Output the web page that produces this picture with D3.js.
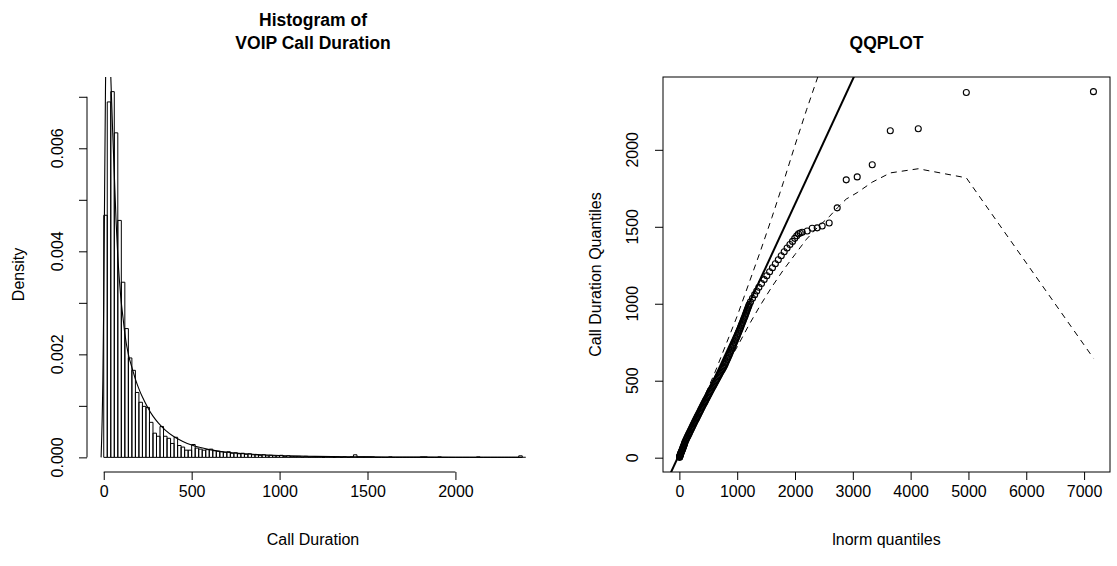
<!DOCTYPE html>
<html><head><meta charset="utf-8">
<script src="https://cdn.jsdelivr.net/npm/d3@7"></script>
<style>
body{margin:0;background:#fff}
svg text{font-family:"Liberation Sans",Arial,Helvetica,sans-serif;fill:#000}
</style>
</head><body>
<svg id="c" width="1117" height="566"></svg>
<script>
// ---------------- DATA ----------------
// Histogram of call duration (density per bin of width 20, starting at 0)
const histStart = 0;
const histBinWidth = 20;
const histDensity = [
0.0047,0.0069,0.0071,0.0063,0.0046,0.0034,0.0025,0.00193,0.00169,0.00126,
0.00107,0.00099,0.00097,0.00068,0.00047,0.00041,0.0006,0.00041,0.00037,0.00027,
0.00039,0.00023,0.0002,0.00014,0.00014,0.00025,0.00018,0.00016,0.00014,0.00015,
0.00016,0.00013,0.00012,0.00011,0.0001,0.00011,0.00008,0.00009,0.00007,0.00008,
0.00006,0.00007,0.00005,0.00005,0.00004,0.00005,0.00003,0.00004,0.00003,0.00003,
0.00004,0.00002,0.00003,0.00002,0.00002,0.00002,0.00001,0.00002,0.00001,0.00001,
0.00001,0.00001,0,0.00001,0.00001,0,0.00001,0,0.00001,0,
0.00001,0.00005,0.00001,0.00001,0.00001,0.00001,0.00001,0,0,0,
0,0.00001,0,0,0,0,0,0,0,0,
0.00001,0.00001,0,0,0,0.00001,0,0,0,0,
0,0,0,0,0,0,0.00001,0,0,0,
0,0,0,0,0,0,0,0,0.00003
];
// Kernel density curve over the histogram
const densX = [-15,-5,0,5,10,15,20,25,30,40,50,60,70,80,90,100,110,120,140,160,180,200,220,250,280,310,350,400,450,500,550,600,700,800,900,1000,1200,1400,1600,1800,2000,2200,2400];
const densY = [0,0.0015,0.003,0.0052,0.0072,0.0085,0.009,0.0089,0.0084,0.0074,0.0064,0.0055,0.0046,0.0039,0.0034,0.003,0.0027,0.0024,0.002,0.00175,0.00152,0.00133,0.00117,0.00097,0.0008,0.00067,0.00053,0.0004,0.00031,0.00024,0.00019,0.00015,0.0001,0.00007,0.00005,0.000035,0.00002,0.000012,0.000008,0.000005,0.000003,0.000002,0.000001];
const histXTicks = [0,500,1000,1500,2000];
const histYTicks = [0,0.001,0.002,0.003,0.004,0.005,0.006,0.007];
const histYLabelTicks = [0,0.002,0.004,0.006];

// QQ plot: sample quantiles (sorted) and matching lognormal theoretical quantiles
const qqSample = [
2,5,8,11,14,17,20,24,28,32,36,40,45,50,55,60,65,70,76,82,88,94,
100,108,116,124,132,140,148,156,164,172,180,188,196,204,212,220,228,236,244,252,260,268,276,284,292,300,308,316,324,332,340,348,356,364,372,380,388,396,404,412,420,428,436,444,452,460,468,476,484,492,500,508,516,524,532,540,548,556,564,572,580,588,596,
606,616,626,636,646,656,666,676,686,696,706,716,726,736,746,756,766,776,786,796,806,816,826,836,846,856,866,876,886,896,906,916,926,936,946,956,966,976,986,996,
1012,1035,1059,1083,1107,1132,1157,1182,1208,1234,1260,1286,1312,1338,1362,1385,1405,1425,1442,1455,1460,1464,1473,1490,1493,1505,1525,1623,1805,1824,1903,2124,2137,2372,2378];
const qqTheo = [
3,5,7,9,11,14,17,20,24,28,33,38,43,48,53,58,63,68,74,80,86,91,
95,105,115,125,135,145,155,166,176,186,196,207,217,228,238,248,259,269,280,291,301,312,323,333,344,355,366,376,387,398,409,420,431,442,453,464,475,486,498,509,520,531,543,554,566,577,588,600,611,623,634,646,658,669,681,693,704,716,728,740,752,764,776,
789,801,812,824,836,847,859,871,882,893,905,916,927,938,949,960,971,982,993,1004,1015,1026,1036,1047,1057,1068,1078,1089,1099,1109,1119,1130,1140,1150,1160,1169,1179,1189,1199,1210,
1230,1265,1302,1338,1375,1420,1467,1513,1561,1610,1660,1711,1762,1813,1863,1912,1957,1995,2030,2060,2090,2124,2211,2297,2384,2470,2591,2730,2886,3076,3336,3648,4132,4963,7162];
// reference line (intercept, slope)
const qqLineIntercept = 23;
const qqLineSlope = 0.812;
// confidence envelope
const envUpperTheo = [3,200,400,600,800,1000,1200,1400,1600,1800,2000,2200,2400,2591,2730];
const envUpper     = [25,200,370,540,730,920,1130,1340,1560,1790,2030,2260,2480,2700,2860];
const envLowerTheo = [3,200,400,600,800,1000,1200,1400,1600,1800,2000,2200,2400,2591,2730,2886,3076,3336,3648,4132,4963,7162];
const envLower     = [-10,150,300,440,590,720,860,990,1110,1220,1320,1420,1500,1565,1622,1680,1722,1790,1850,1877,1818,646];
const qqXTicks = [0,1000,2000,3000,4000,5000,6000,7000];
const qqYTicks = [0,500,1000,1500,2000];

// ---------------- LAYOUT ----------------
const svg = d3.select("#c");
const PL = {left:87, right:539, top:77, bottom:472};
const PR = {left:663, right:1110, top:77, bottom:472};
const tickFont = 16, labFont = 16, mainFont = 17.5, tickLen = 8;
function pad(e){const d=e[1]-e[0];return [e[0]-0.04*d, e[1]+0.04*d];}

// ---------- Left: histogram ----------
const nBins = histDensity.length;
const xH = d3.scaleLinear().domain(pad([histStart, histStart+nBins*histBinWidth])).range([PL.left, PL.right]);
const yH = d3.scaleLinear().domain(pad([0, d3.max(histDensity)])).range([PL.bottom, PL.top]);

svg.append("clipPath").attr("id","clipL").append("rect")
  .attr("x",PL.left).attr("y",PL.top).attr("width",PL.right-PL.left).attr("height",PL.bottom-PL.top);

const gBars = svg.append("g").attr("clip-path","url(#clipL)");
gBars.selectAll("path").data(histDensity).join("path")
  .attr("d",(d,i)=>{
    const x0=xH(histStart+i*histBinWidth), x1=xH(histStart+(i+1)*histBinWidth);
    const y0=yH(0), y1=yH(d);
    return `M${x0},${y0}V${y1}H${x1}V${y0}Z`;
  })
  .attr("fill","none").attr("stroke","#000").attr("stroke-width",1);

gBars.append("path")
  .datum(densX.map((x,i)=>[x,densY[i]]))
  .attr("d", d3.line().x(d=>xH(d[0])).y(d=>yH(d[1])).curve(d3.curveMonotoneX))
  .attr("fill","none").attr("stroke","#000").attr("stroke-width",1.1);

// x axis
const axH = svg.append("g").attr("transform",`translate(0,${PL.bottom})`)
  .call(d3.axisBottom(xH).tickValues(histXTicks).tickSize(tickLen).tickPadding(6).tickFormat(d3.format("d")));
axH.select(".domain").remove();
axH.append("line").attr("x1",xH(histXTicks[0])).attr("x2",xH(histXTicks[histXTicks.length-1])).attr("stroke","#000");
axH.selectAll("text").attr("font-size",tickFont);
// y axis
const ayH = svg.append("g").attr("transform",`translate(${PL.left},0)`)
  .call(d3.axisLeft(yH).tickValues(histYTicks).tickSize(tickLen).tickFormat(""));
ayH.select(".domain").remove();
ayH.append("line").attr("y1",yH(histYTicks[0])).attr("y2",yH(histYTicks[histYTicks.length-1])).attr("stroke","#000");
svg.append("g").selectAll("text").data(histYLabelTicks).join("text")
  .attr("transform",d=>`translate(${PL.left-30},${yH(d)}) rotate(-90)`)
  .attr("text-anchor","middle").attr("dy","0.35em").attr("font-size",tickFont)
  .text(d=>d3.format(".3f")(d));

// titles
const cxL = (PL.left+PL.right)/2;
svg.append("text").attr("x",cxL).attr("y",26).attr("text-anchor","middle")
  .attr("font-size",mainFont).attr("font-weight","bold").text("Histogram of");
svg.append("text").attr("x",cxL).attr("y",49).attr("text-anchor","middle")
  .attr("font-size",mainFont).attr("font-weight","bold").text("VOIP Call Duration");
svg.append("text").attr("x",cxL).attr("y",545).attr("text-anchor","middle")
  .attr("font-size",labFont).text("Call Duration");
svg.append("text").attr("transform",`translate(${PL.left-69},${(PL.top+PL.bottom)/2}) rotate(-90)`)
  .attr("text-anchor","middle").attr("dy","0.35em").attr("font-size",labFont).text("Density");

// ---------- Right: QQ plot ----------
const xQ = d3.scaleLinear().domain(pad(d3.extent(qqTheo))).range([PR.left, PR.right]);
const yQ = d3.scaleLinear().domain(pad(d3.extent(qqSample))).range([PR.bottom, PR.top]);

svg.append("clipPath").attr("id","clipR").append("rect")
  .attr("x",PR.left).attr("y",PR.top).attr("width",PR.right-PR.left).attr("height",PR.bottom-PR.top);
const gQ = svg.append("g").attr("clip-path","url(#clipR)");

// reference line
const lx0 = xQ.domain()[0]-2000, lx1 = xQ.domain()[1]+2000;
gQ.append("line")
  .attr("x1",xQ(lx0)).attr("y1",yQ(qqLineIntercept+qqLineSlope*lx0))
  .attr("x2",xQ(lx1)).attr("y2",yQ(qqLineIntercept+qqLineSlope*lx1))
  .attr("stroke","#000").attr("stroke-width",2);

const envLine = d3.line().x(d=>xQ(d[0])).y(d=>yQ(d[1]));
gQ.append("path").datum(envUpperTheo.map((t,i)=>[t,envUpper[i]])).attr("d",envLine)
  .attr("fill","none").attr("stroke","#000").attr("stroke-width",1).attr("stroke-dasharray","6,5");
gQ.append("path").datum(envLowerTheo.map((t,i)=>[t,envLower[i]])).attr("d",envLine)
  .attr("fill","none").attr("stroke","#000").attr("stroke-width",1).attr("stroke-dasharray","6,5");

gQ.selectAll("circle").data(qqTheo.map((t,i)=>[t,qqSample[i]])).join("circle")
  .attr("cx",d=>xQ(d[0])).attr("cy",d=>yQ(d[1])).attr("r",3)
  .attr("fill","none").attr("stroke","#000").attr("stroke-width",1.1);

svg.append("rect").attr("x",PR.left).attr("y",PR.top).attr("width",PR.right-PR.left).attr("height",PR.bottom-PR.top)
  .attr("fill","none").attr("stroke","#000").attr("stroke-width",1);

const axQ = svg.append("g").attr("transform",`translate(0,${PR.bottom})`)
  .call(d3.axisBottom(xQ).tickValues(qqXTicks).tickSize(tickLen).tickPadding(6).tickFormat(d3.format("d")));
axQ.select(".domain").remove();
axQ.selectAll("text").attr("font-size",tickFont);
const ayQ = svg.append("g").attr("transform",`translate(${PR.left},0)`)
  .call(d3.axisLeft(yQ).tickValues(qqYTicks).tickSize(tickLen).tickFormat(""));
ayQ.select(".domain").remove();
svg.append("g").selectAll("text").data(qqYTicks).join("text")
  .attr("transform",d=>`translate(${PR.left-31},${yQ(d)}) rotate(-90)`)
  .attr("text-anchor","middle").attr("dy","0.35em").attr("font-size",tickFont)
  .text(d=>d3.format("d")(d));

const cxR = (PR.left+PR.right)/2;
svg.append("text").attr("x",cxR).attr("y",49).attr("text-anchor","middle")
  .attr("font-size",mainFont).attr("font-weight","bold").text("QQPLOT");
svg.append("text").attr("x",cxR).attr("y",545).attr("text-anchor","middle")
  .attr("font-size",labFont).text("lnorm quantiles");
svg.append("text").attr("transform",`translate(${PR.left-68},${(PR.top+PR.bottom)/2}) rotate(-90)`)
  .attr("text-anchor","middle").attr("dy","0.35em").attr("font-size",labFont).text("Call Duration Quantiles");
</script>
</body></html>
